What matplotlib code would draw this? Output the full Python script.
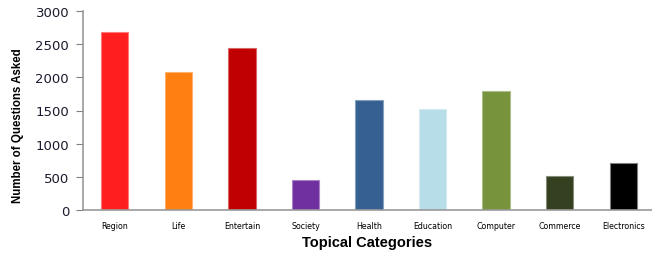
import matplotlib
matplotlib.use("Agg")
import matplotlib.pyplot as plt
import matplotlib.colors as mcolors

categories = ["Region", "Life", "Entertain", "Society", "Health", "Education",
              "Computer", "Commerce", "Electronics"]
values = [2683, 2080, 2442, 452, 1658, 1523, 1794, 513, 708]
colors = ["#FF1F1F", "#FF7F10", "#C00000", "#7030A0", "#366092", "#B7DDE8",
          "#77933C", "#344020", "#000000"]
yticks = [0, 500, 1000, 1500, 2000, 2500, 3000]

fig = plt.figure(figsize=(6.52, 2.55), dpi=100)
ax = fig.add_axes([83/652, 44/255, 572/652, 199/255])

def lighten(c, f=0.4):
    r, g, b = mcolors.to_rgb(c)
    return (r + (1-r)*f, g + (1-g)*f, b + (1-b)*f)

edges = [lighten(c) if c != "#000000" else "#7f7f7f" for c in colors]
x = list(range(len(categories)))
ax.bar(x, values, width=0.43, color=colors, edgecolor=edges, linewidth=0.8)

ax.set_xlim(-0.5, len(categories) - 0.5)
ax.set_ylim(0, 3000)
ax.set_yticks(yticks)
ax.set_yticklabels([str(v) for v in yticks], fontsize=9.5, family="DejaVu Sans",
                   color="#1a1a2e")
ax.set_xticks(x)
ax.set_xticklabels(categories, fontsize=5.7, family="DejaVu Sans")
ax.tick_params(axis="x", length=0, pad=8)
ax.tick_params(axis="y", length=5, color="#808080", pad=5)

for s in ["top", "right"]:
    ax.spines[s].set_visible(False)
for s in ["left", "bottom"]:
    ax.spines[s].set_color("#9a9a9a")
    ax.spines[s].set_linewidth(1.2)

fig.text(367/652, 1 - 243/255, "Topical Categories", ha="center", va="center",
         fontsize=10.5, fontweight="bold", family="Liberation Sans")
fig.text(18/652, 1 - 126/255, "Number of Questions Asked", ha="center", va="center",
         rotation=90, fontsize=8.3, fontweight="bold", family="Liberation Sans")

fig.savefig("out.png", dpi=100)
